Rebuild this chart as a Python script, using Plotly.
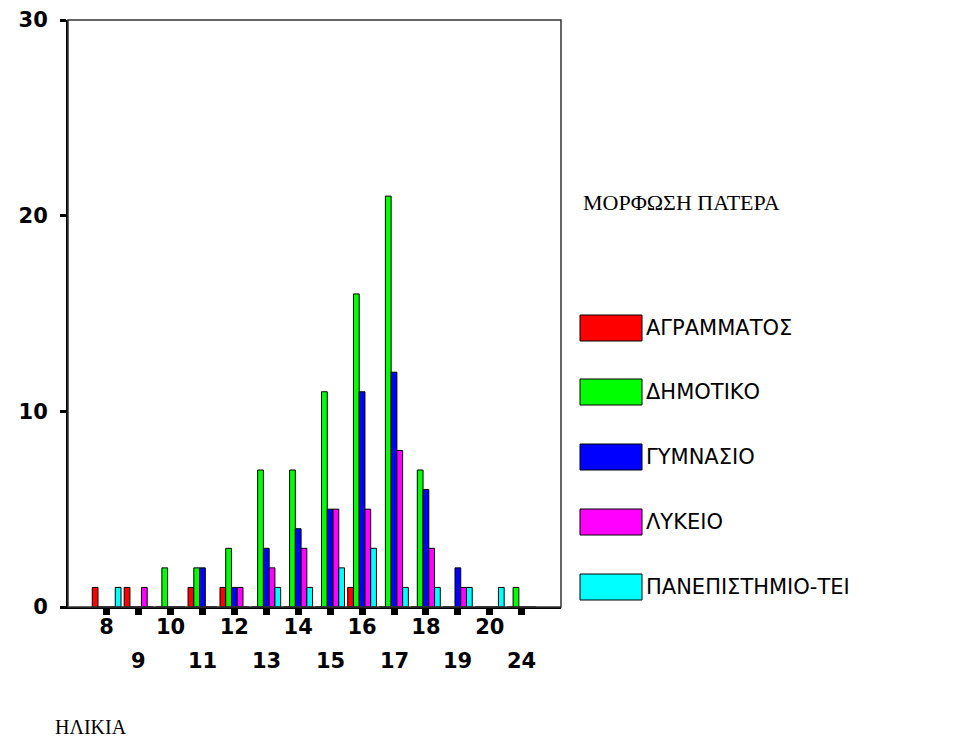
import plotly.graph_objects as go

# ages (ΗΛΙΚΙΑ) and counts per father's education level
ages = ["8", "9", "10", "11", "12", "13", "14", "15", "16", "17", "18", "19", "20", "24"]
agrammatos = [1, 1, 0, 1, 1, 0, 0, 0, 1, 0, 0, 0, 0, 0]
dimotiko = [0, 0, 2, 2, 3, 7, 7, 11, 16, 21, 7, 0, 0, 1]
gymnasio = [0, 0, 0, 2, 1, 3, 4, 5, 11, 12, 6, 2, 0, 0]
lykeio = [0, 1, 0, 0, 1, 2, 3, 5, 5, 8, 3, 1, 0, 0]
panepistimio = [1, 0, 0, 0, 0, 1, 1, 2, 3, 1, 1, 1, 1, 0]

series_names = ["ΑΓΡΑΜΜΑΤΟΣ", "ΔΗΜΟΤΙΚΟ", "ΓΥΜΝΑΣΙΟ", "ΛΥΚΕΙΟ", "ΠΑΝΕΠΙΣΤΗΜΙΟ-ΤΕΙ"]
series_values = [agrammatos, dimotiko, gymnasio, lykeio, panepistimio]
series_colors = ["#ff0000", "#00ff00", "#0000ff", "#ff00ff", "#00ffff"]

y_ticks = [0, 10, 20, 30]

# page has an 8px body margin, so the figure is drawn 8px smaller and shifted
OFF = 8
W, H = 973 - OFF, 740 - OFF
L, R, T, B = 68 - OFF, 412, 20 - OFF, 141 - OFF
pw = W - L - R
ph = H - T - B


def px_x(px):
    return (px - OFF - L) / pw


def px_y(py):
    return (H - B - (py - OFF)) / ph


fig = go.Figure()
for name, vals, col in zip(series_names, series_values, series_colors):
    fig.add_trace(go.Bar(x=ages, y=vals, name=name,
                         marker=dict(color=col, line=dict(color="black", width=1))))

tick_font = dict(family="DejaVu Sans", size=21, color="black", weight="bold")

fig.update_layout(
    width=W, height=H,
    margin=dict(l=L, r=R, t=T, b=B),
    paper_bgcolor="white", plot_bgcolor="white",
    barmode="group", bargap=0.1, bargroupgap=0,
    showlegend=False,
)

fig.update_xaxes(
    type="category", range=[-1.21, 14.23], automargin=False,
    tickvals=ages, ticktext=[a if i % 2 == 0 else "" for i, a in enumerate(ages)],
    ticks="outside", ticklen=6, tickwidth=7, tickcolor="black",
    tickfont=tick_font, ticklabelstandoff=-6,
    showline=True, linecolor="black", linewidth=2,
    showgrid=False, zeroline=False,
)
fig.update_yaxes(
    range=[0, 30], tickvals=y_ticks, automargin=False,
    ticks="outside", ticklen=6, tickwidth=3, tickcolor="black",
    tickfont=tick_font, ticklabelstandoff=8,
    showline=True, linecolor="black", linewidth=2,
    showgrid=False, zeroline=False,
)

# frame on top and right
fig.add_shape(type="rect", xref="paper", yref="paper", x0=0, y0=0, x1=1, y1=1,
              line=dict(color="#333333", width=1.5), layer="above")

# second row of age labels (odd positions)
for i, a in enumerate(ages):
    if i % 2 == 1:
        fig.add_annotation(x=i, y=0, xref="x", yref="y", text=a, showarrow=False,
                           yanchor="top", yshift=-40, font=tick_font)

# axis title
fig.add_annotation(x=px_x(53), y=px_y(714), xref="paper", yref="paper", text="ΗΛΙΚΙΑ",
                   showarrow=False, xanchor="left", yanchor="top",
                   font=dict(family="Liberation Serif", size=20, color="black"))

# legend drawn by hand with large swatches
fig.add_annotation(x=px_x(581), y=px_y(202), xref="paper", yref="paper", text="ΜΟΡΦΩΣΗ ΠΑΤΕΡΑ",
                   showarrow=False, xanchor="left", yanchor="middle",
                   font=dict(family="Liberation Serif", size=22, color="black"))
legend_y = [328, 392, 457, 522, 587]
for name, col, cy in zip(series_names, series_colors, legend_y):
    fig.add_shape(type="rect", xref="paper", yref="paper",
                  x0=px_x(580), x1=px_x(642), y0=px_y(cy + 13), y1=px_y(cy - 13),
                  fillcolor=col, line=dict(color="black", width=1))
    fig.add_annotation(x=px_x(644), y=px_y(cy), xref="paper", yref="paper", text=name,
                       showarrow=False, xanchor="left", yanchor="middle",
                       font=dict(family="DejaVu Sans", size=21, color="black"))

fig.write_html("out.html")
